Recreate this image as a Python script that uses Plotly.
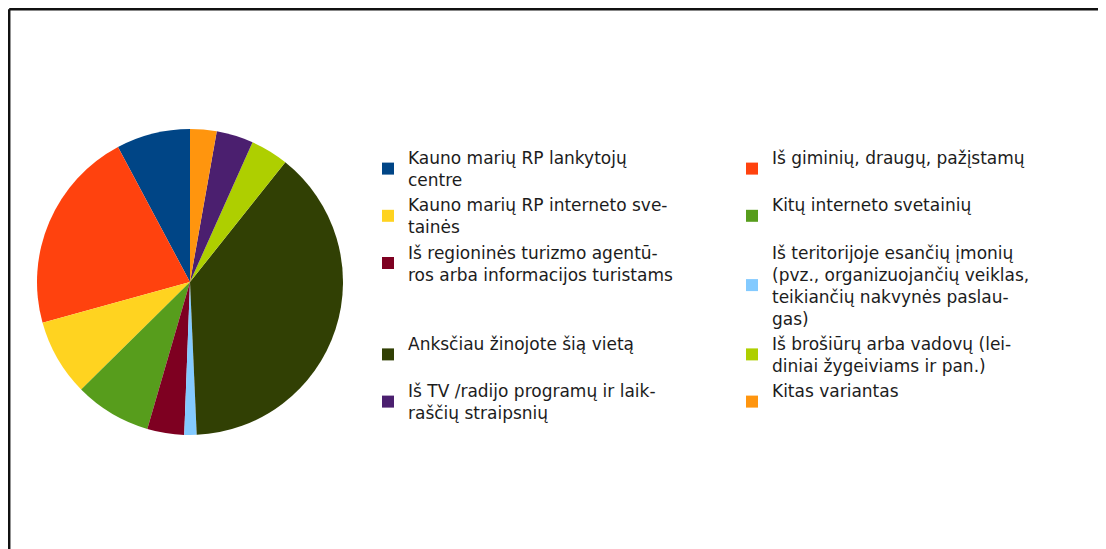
import plotly.graph_objects as go

categories = [
    "Kauno marių RP lankytojų<br>centre",
    "Iš giminių, draugų, pažįstamų<br>\u00a0",
    "Kauno marių RP interneto sve-<br>tainės",
    "Kitų interneto svetainių<br>\u00a0",
    "Iš regioninės turizmo agentū-<br>ros arba informacijos turistams",
    "Iš teritorijoje esančių įmonių<br>(pvz., organizuojančių veiklas,<br>teikiančių nakvynės paslau-<br>gas)",
    "Anksčiau žinojote šią vietą<br>\u00a0",
    "Iš brošiūrų arba vadovų (lei-<br>diniai žygeiviams ir pan.)",
    "Iš TV /radijo programų ir laik-<br>raščių straipsnių",
    "Kitas variantas<br>\u00a0",
]
values = [7.8, 21.5, 8.1, 8.1, 3.9, 1.3, 38.6, 4.0, 3.9, 2.8]
colors = ["#004586", "#ff420e", "#ffd320", "#579d1c", "#7e0021",
          "#83caff", "#314004", "#aecf00", "#4b1f6f", "#ff950e"]

# the page body has an 8px margin; work in page coordinates
OFF = 8
W, H = 1106 - OFF, 549 - OFF
ML, MR, MT, MB = 0, 100, 0, 0
PW, PH = W - ML - MR, H - MT - MB


def fx(px):
    return (px - OFF - ML) / PW


def fy(py):
    return (H - (py - OFF) - MB) / PH


cx, cy, r = 190, 282, 153

# first slice ends at 12 o'clock and the rest continue counterclockwise
first_angle = values[0] / sum(values) * 360

fig = go.Figure(go.Pie(
    labels=categories,
    values=values,
    marker=dict(colors=colors, line=dict(width=0)),
    sort=False,
    direction="counterclockwise",
    rotation=-first_angle,
    textinfo="none",
    hoverinfo="label+percent",
    domain=dict(x=[fx(cx - r), fx(cx + r)],
                y=[fy(cy + r), fy(cy - r)]),
))

fig.update_layout(
    width=W, height=H,
    margin=dict(l=ML, r=MR, t=MT, b=MB, pad=0),
    paper_bgcolor="white",
    plot_bgcolor="white",
    showlegend=True,
    legend=dict(
        orientation="h",
        x=fx(368), xanchor="left",
        y=fy(140), yanchor="top",
        entrywidth=319, entrywidthmode="pixels",
        maxheight=520,
        valign="middle",
        font=dict(family="DejaVu Sans", size=17, color="#1c1c1c"),
        bgcolor="rgba(0,0,0,0)",
        borderwidth=0,
        traceorder="normal",
    ),
    shapes=[
        dict(type="line", xref="paper", yref="paper",
             x0=fx(9.2), x1=fx(9.2),
             y0=fy(549), y1=fy(9.3),
             line=dict(color="#111111", width=2.5)),
        dict(type="line", xref="paper", yref="paper",
             x0=fx(9.2), x1=fx(1106),
             y0=fy(9.3), y1=fy(9.3),
             line=dict(color="#111111", width=2.5)),
    ],
)

fig.write_html("out.html")
